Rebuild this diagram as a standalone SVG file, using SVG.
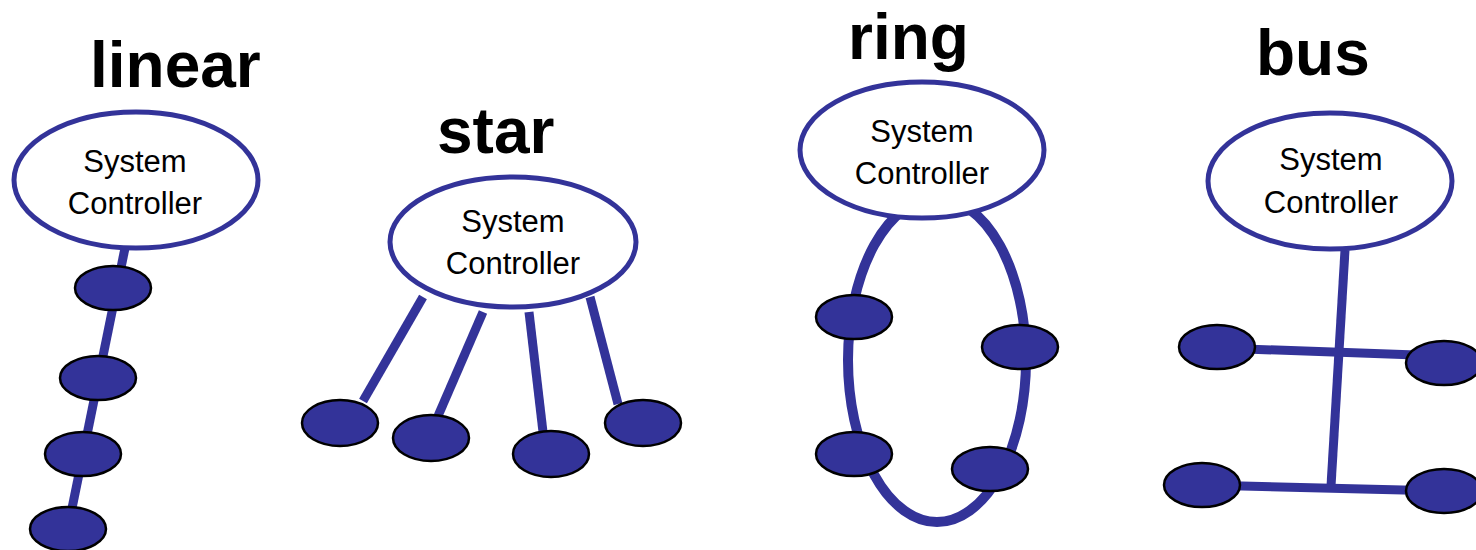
<svg xmlns="http://www.w3.org/2000/svg" width="1476" height="550" viewBox="0 0 1476 550">
<style>
.title{font-family:"Liberation Sans",Arial,sans-serif;font-weight:bold;font-size:64px;fill:#000}
.ctl{fill:#fff;stroke:#333399;stroke-width:5}
.lbl{font-family:"Liberation Sans",Arial,sans-serif;font-size:31px;fill:#000;text-anchor:middle}
.dev{fill:#333399;stroke:#000;stroke-width:2.5}
.wire{stroke:#333399;stroke-width:9;fill:none}
.ring{stroke:#333399;stroke-width:10;fill:none}
</style>
<rect width="1476" height="550" fill="#fff"/>
<text class="title" x="90" y="87">linear</text>
<text class="title" x="437" y="153">star</text>
<text class="title" x="848" y="59">ring</text>
<text class="title" x="1256" y="75">bus</text>
<g id="connectors">
<line class="wire" x1="125" y1="248" x2="68" y2="528"/>
<line class="wire" x1="423" y1="297" x2="363" y2="401"/>
<line class="wire" x1="483" y1="312" x2="438" y2="416"/>
<line class="wire" x1="529" y1="312" x2="543" y2="432"/>
<line class="wire" x1="590" y1="297" x2="618" y2="404"/>
<ellipse class="ring" cx="937" cy="360" rx="89" ry="162"/>
<line class="wire" x1="1345" y1="250" x2="1331" y2="486"/>
<line class="wire" x1="1217" y1="348" x2="1444" y2="356"/>
<line class="wire" x1="1202" y1="485" x2="1444" y2="491"/>
</g>
<g id="linear-controller"><ellipse class="ctl" cx="136" cy="180" rx="122" ry="68"/><text class="lbl" x="135" y="172">System</text><text class="lbl" x="135" y="214">Controller</text></g>
<g id="linear-n1"><ellipse class="dev" cx="113" cy="288" rx="38" ry="22"/></g>
<g id="linear-n2"><ellipse class="dev" cx="98" cy="378" rx="38" ry="22"/></g>
<g id="linear-n3"><ellipse class="dev" cx="83" cy="454" rx="38" ry="22"/></g>
<g id="linear-n4"><ellipse class="dev" cx="68" cy="529" rx="38" ry="22"/></g>
<g id="star-controller"><ellipse class="ctl" cx="513" cy="242" rx="123" ry="65"/><text class="lbl" x="513" y="232">System</text><text class="lbl" x="513" y="274">Controller</text></g>
<g id="star-n1"><ellipse class="dev" cx="340" cy="423" rx="38" ry="23"/></g>
<g id="star-n2"><ellipse class="dev" cx="431" cy="438" rx="38" ry="23"/></g>
<g id="star-n3"><ellipse class="dev" cx="551" cy="454" rx="38" ry="23"/></g>
<g id="star-n4"><ellipse class="dev" cx="643" cy="423" rx="38" ry="23"/></g>
<g id="ring-controller"><ellipse class="ctl" cx="922" cy="150" rx="122" ry="68"/><text class="lbl" x="922" y="142">System</text><text class="lbl" x="922" y="184">Controller</text></g>
<g id="ring-n1"><ellipse class="dev" cx="854" cy="317" rx="38" ry="22"/></g>
<g id="ring-n2"><ellipse class="dev" cx="1020" cy="347" rx="38" ry="22"/></g>
<g id="ring-n3"><ellipse class="dev" cx="854" cy="454" rx="38" ry="22"/></g>
<g id="ring-n4"><ellipse class="dev" cx="990" cy="469" rx="38" ry="22"/></g>
<g id="bus-controller"><ellipse class="ctl" cx="1330" cy="181" rx="122" ry="68"/><text class="lbl" x="1331" y="170">System</text><text class="lbl" x="1331" y="213">Controller</text></g>
<g id="bus-n1"><ellipse class="dev" cx="1217" cy="347" rx="38" ry="22"/></g>
<g id="bus-n2"><ellipse class="dev" cx="1444" cy="363" rx="38" ry="22"/></g>
<g id="bus-n3"><ellipse class="dev" cx="1202" cy="485" rx="38" ry="22"/></g>
<g id="bus-n4"><ellipse class="dev" cx="1444" cy="491" rx="38" ry="22"/></g>
</svg>
